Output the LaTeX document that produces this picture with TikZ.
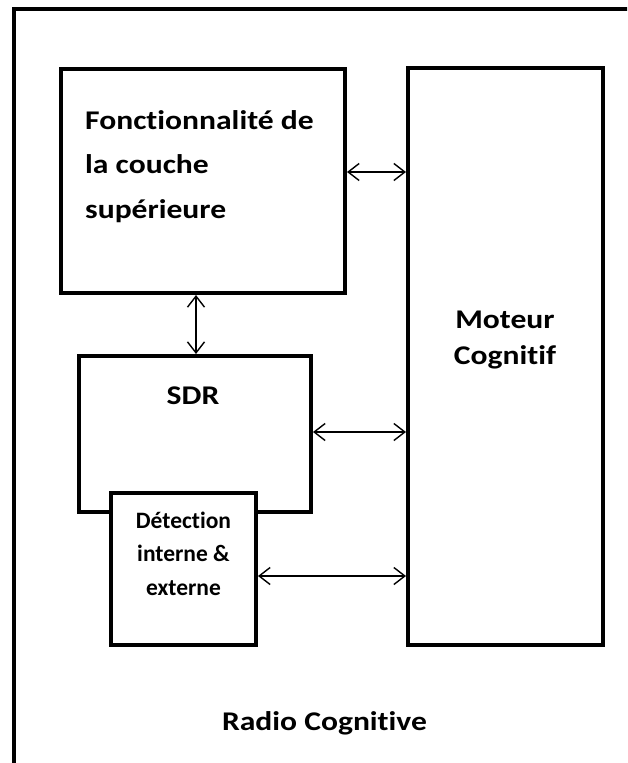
\documentclass[tikz,border=0pt]{standalone}
\usepackage{fontspec}
\setmainfont{Carlito}[Ligatures=NoCommon]
\newfontfamily\widefont{Carlito}[Ligatures=NoCommon,FakeStretch=1.17]
\usetikzlibrary{arrows.meta}
\begin{document}
\begin{tikzpicture}[x=1pt,y=-1pt,
  box/.style={draw,line width=4pt,inner sep=0pt,fill=white},
  link/.style={line width=1.4pt,
    {Straight Barb[length=11pt,width=17pt]}-{Straight Barb[length=11pt,width=17pt]}},
  lbl/.style={font=\widefont\bfseries\fontsize{27}{44.5}\selectfont,inner sep=0pt},
  small/.style={font=\bfseries\fontsize{23.5}{33.5}\selectfont,inner sep=0pt}]
\useasboundingbox (0,0) rectangle (627,763);
% outer frame, running off the page on the right and at the bottom
\begin{scope}
  \clip (0,0) rectangle (627,763);
  \draw[line width=4pt] (13.5,9) rectangle (700,850);
\end{scope}

% blocks
\node[box,minimum width=284pt,minimum height=224pt] (upper)  at (203,181) {};
\node[box,minimum width=232pt,minimum height=156pt] (sdr)    at (195,434) {};
\node[box,minimum width=145pt,minimum height=152pt] (det)    at (183.5,569) {};
\node[box,minimum width=195pt,minimum height=577pt] (moteur) at (505.5,356.5) {};

% labels (base anchor sits on the last line)
\node[lbl,anchor=base west,align=left] (upperlbl) at (85,218)
  {Fonctionnalité de\\la couche\\supérieure};
\node[lbl,anchor=base,font=\widefont\bfseries\fontsize{27}{36}\selectfont,align=center] (moteurlbl) at (505,364)
  {Moteur\\Cognitif};
\node[lbl,anchor=base] (sdrlbl) at (193,404) {SDR};
\node[small,anchor=base,align=center] (detlbl) at (183.5,595)
  {Détection\\interne \&\\externe};
\node[lbl,anchor=base] (title) at (324.5,730) {Radio Cognitive};

% links
\draw[link] (upper.east |- 0,172) -- (moteur.west |- 0,172);
\draw[link] (upper.south -| 196,0) -- (sdr.north -| 196,0);
\draw[link] (sdr.east |- 0,432) -- (moteur.west |- 0,432);
\draw[link] (det.east |- 0,576) -- (moteur.west |- 0,576);
\end{tikzpicture}
\end{document}
